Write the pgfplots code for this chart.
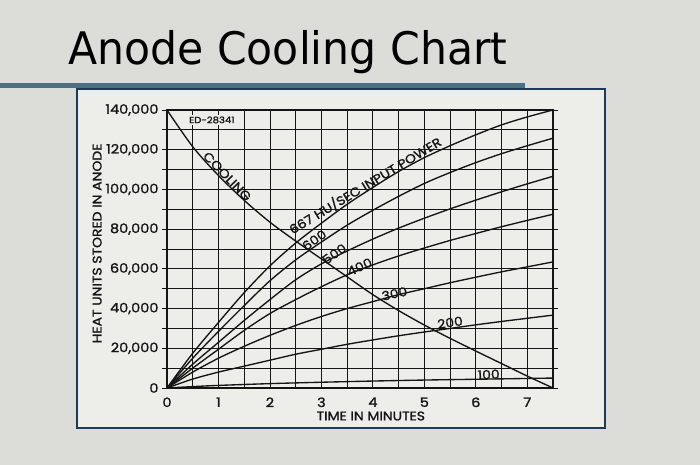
\documentclass[border=0pt]{standalone}
\usepackage{pgfplots}
\pgfplotsset{compat=1.18}
\usepackage{fontspec}
\setmainfont{Poppins}[FakeBold=1.4, FakeStretch=1.12]
\newfontfamily\titlefont{DejaVu Sans}
\definecolor{slidebg}{HTML}{DCDDD8}
\definecolor{boxbg}{HTML}{EDEEEA}
\definecolor{boxframe}{HTML}{1E3A5A}
\definecolor{barcol}{HTML}{4E6F82}
\definecolor{ink}{HTML}{151515}
\begin{document}
\begin{tikzpicture}[x=1bp,y=1bp]
\path[use as bounding box] (0,0) rectangle (700,465);
\fill[slidebg] (0,0) rectangle (700,465);
\fill[barcol] (0,377) rectangle (525,382);
\filldraw[fill=boxbg, draw=boxframe, line width=1.3bp] (77,37) rectangle (605,376);
\node[anchor=base west, inner sep=0, text=black] at (68,400) {\titlefont\fontsize{45}{50}\selectfont\scalebox{0.95}[1]{Anode Cooling Chart}};
\begin{axis}[
  at={(167bp,77bp)}, anchor=south west, scale only axis,
  width=386bp, height=278bp,
  xmin=0, xmax=7.5, ymin=0, ymax=140000,
  xtick={0,...,7}, minor xtick={0.5,1.5,2.5,3.5,4.5,5.5,6.5},
  ytick={0,20000,...,140000}, minor ytick={10000,30000,...,130000},
  grid=both,
  major grid style={ink, line width=0.8bp},
  minor grid style={ink, line width=0.8bp},
  axis line style={ink, line width=1.4bp},
  tick align=outside,
  xtick style={draw=none},
  ytick style={ink, line width=0.8bp},
  major tick length=5bp, minor tick length=5bp,
  scaled y ticks=false,
  /pgf/number format/fixed,
  /pgf/number format/assume math mode=true,
  /pgf/number format/1000 sep={,},
  ticklabel style={font=\fontsize{13}{15}\selectfont, text=ink},
  xticklabel style={yshift=-1bp},
  axis background/.style={fill=boxbg},
  xlabel={TIME IN MINUTES},
  ylabel={HEAT UNITS STORED IN ANODE},
  xlabel style={at={(axis description cs:0.528,0)}, anchor=center, yshift=-28bp, font=\fontsize{12.5}{15}\selectfont, text=ink},
  ylabel style={at={(axis description cs:-0.181,0.52)}, anchor=center, font=\fontsize{12.5}{14}\selectfont, text=ink},
  curve/.style={ink, line width=1.35bp, smooth, mark=none},
  clip=true,
]
% 667 HU/sec
\addplot[curve] coordinates {(0,0)(0.5,17500)(1,33000)(1.5,48000)(2,61500)(2.5,73000)(3,83000)(3.5,92500)(4,101000)(4.5,109000)(5,116000)(5.5,122000)(6,127500)(6.5,132500)(7,136500)(7.5,140000)};
% 600
\addplot[curve] coordinates {(0,0)(0.5,15000)(1,28500)(1.5,41500)(2,54000)(2.5,64500)(3,73500)(3.5,82000)(4,89500)(4.5,96500)(5,103000)(5.5,108500)(6,113500)(6.5,118000)(7,122000)(7.5,125800)};
% 500
\addplot[curve] coordinates {(0,0)(0.5,12000)(1,23000)(1.5,34000)(2,44500)(2.5,54500)(3,62500)(3.5,69000)(4,75000)(4.5,80500)(5,85500)(5.5,90200)(6,94600)(6.5,98800)(7,102800)(7.5,106600)};
% 400
\addplot[curve] coordinates {(0,0)(0.5,10000)(1,19500)(1.5,29000)(2,37500)(2.5,44500)(3,51000)(3.5,57000)(4,62000)(4.5,66500)(5,70500)(5.5,74300)(6,77800)(6.5,81200)(7,84400)(7.5,87500)};
% 300
\addplot[curve] coordinates {(0,0)(0.5,8000)(1,15000)(1.5,21000)(2,26500)(2.5,31500)(3,36000)(3.5,40000)(4,43500)(4.5,47000)(5,50000)(5.5,53000)(6,55800)(6.5,58500)(7,61000)(7.5,63500)};
% 200
\addplot[curve] coordinates {(0,0)(0.5,4500)(1,8000)(1.5,11000)(2,14000)(2.5,17000)(3,19500)(3.5,22000)(4,24200)(4.5,26300)(5,28200)(5.5,30000)(6,31800)(6.5,33500)(7,35100)(7.5,36700)};
% 100
\addplot[curve] coordinates {(0,0)(0.5,700)(1,1300)(2,2200)(3,2900)(4,3500)(5,4000)(6,4400)(7,4800)(7.5,5000)};
% cooling
\addplot[curve] coordinates {(0,140000)(0.5,121500)(1,107000)(1.5,94500)(2,83500)(2.5,74000)(3,65000)(3.5,56000)(4,47000)(4.5,39000)(5,31700)(5.5,25000)(6,18600)(6.5,12300)(7,6000)(7.5,0)};
\begin{scope}[every node/.style={font=\fontsize{12.5}{14}\selectfont, text=ink, inner sep=1bp}]
\node[rotate=-46] at (axis cs:1.17,106500) {COOLING};
\node[rotate=31, anchor=south] at (axis cs:3.93,98500) {667 HU/SEC INPUT POWER};
\node[rotate=35] at (axis cs:2.86,74500) {600};
\node[rotate=35] at (axis cs:3.25,67500) {500};
\node[rotate=25] at (axis cs:3.74,61000) {400};
\node[rotate=12] at (axis cs:4.42,47500) {300};
\node[rotate=8] at (axis cs:5.5,33000) {200};
\node[rotate=3] at (axis cs:6.25,6800) {100};
\node[fill=boxbg, font=\fontsize{9}{10}\selectfont, inner sep=2bp] at (axis cs:0.87,135000) {ED-28341};
\end{scope}
\end{axis}
\end{tikzpicture}
\end{document}
